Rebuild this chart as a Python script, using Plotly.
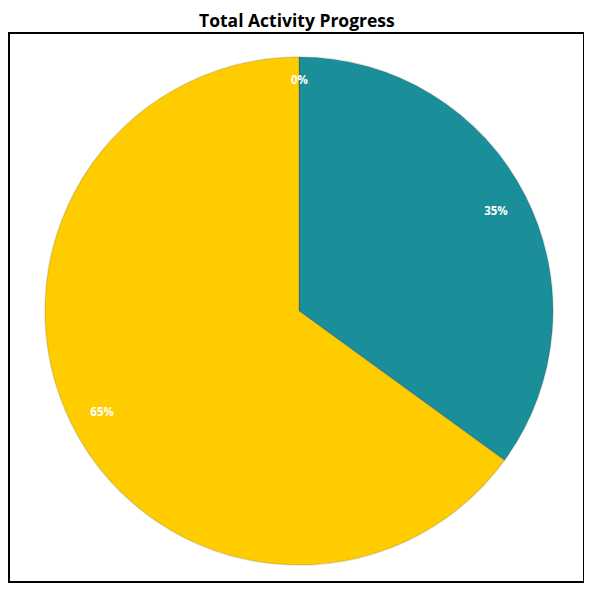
import math
import plotly.graph_objects as go

categories = ["Not Started", "Completed", "In Progress"]
values = [0, 35, 65]
colors = ["#E0E0E0", "#1A8F99", "#FFCC00"]
title_text = "Total Activity Progress"

# page body has an 8px margin; work in paper pixels
OFF = 8
W, H = 592 - OFF, 589 - OFF
cx, cy, r = 299 - OFF, 311 - OFF, 254

dom_x = [(cx - r) / W, (cx + r) / W]
dom_y = [(H - (cy + r)) / H, (H - (cy - r)) / H]

fig = go.Figure()
fig.add_trace(go.Pie(
    labels=categories, values=values, sort=False, direction="clockwise",
    rotation=0, marker=dict(colors=colors, line=dict(color="rgba(0,0,0,0.12)", width=1.5)),
    textinfo="none", hoverinfo="label+percent", showlegend=False,
    domain=dict(x=dom_x, y=dom_y),
))
fig.add_trace(go.Pie(
    labels=categories, values=values, sort=False, direction="clockwise",
    rotation=0, hole=0.74,
    marker=dict(colors=["rgba(0,0,0,0)"] * 3, line=dict(width=0)),
    texttemplate="<b>%{percent:.0%}</b>", textposition="inside",
    insidetextorientation="horizontal",
    textfont=dict(color="white", size=11.5, family="Open Sans"),
    hoverinfo="skip", showlegend=False,
    domain=dict(x=dom_x, y=dom_y),
))

# zero-value slices are not drawn by plotly; label them at their angle
annotations = []
total = sum(values)
cum = 0
for cat, v in zip(categories, values):
    if v == 0:
        ang = math.radians(cum / total * 360)
        rr = 0.913 * r
        px = cx + rr * math.sin(ang)
        py = cy - rr * math.cos(ang)
        annotations.append(dict(
            text="<b>%d%%</b>" % round(v / total * 100), x=px / W, y=(H - py) / H,
            xref="paper", yref="paper", xanchor="center", yanchor="middle",
            showarrow=False,
            font=dict(color="white", size=11.5, family="Open Sans")))
    cum += v

# title as an annotation kept fully inside the page
annotations.append(dict(
    text="<b>" + title_text + "</b>", x=(297 - OFF) / W, y=1 - 12.5 / H,
    xref="paper", yref="paper", xanchor="center", yanchor="middle",
    showarrow=False, font=dict(family="Open Sans", size=17.5, color="black")))

fig.update_layout(
    width=W, height=H,
    margin=dict(l=0, r=0, t=0, b=0),
    paper_bgcolor="white", plot_bgcolor="white",
    annotations=annotations,
    shapes=[dict(type="rect", xref="paper", yref="paper",
                 x0=1 / W, x1=(584 - OFF) / W,
                 y0=(H - (582 - OFF)) / H, y1=(H - (33 - OFF)) / H,
                 line=dict(color="black", width=2), layer="above")],
)

fig.write_html("out.html")
